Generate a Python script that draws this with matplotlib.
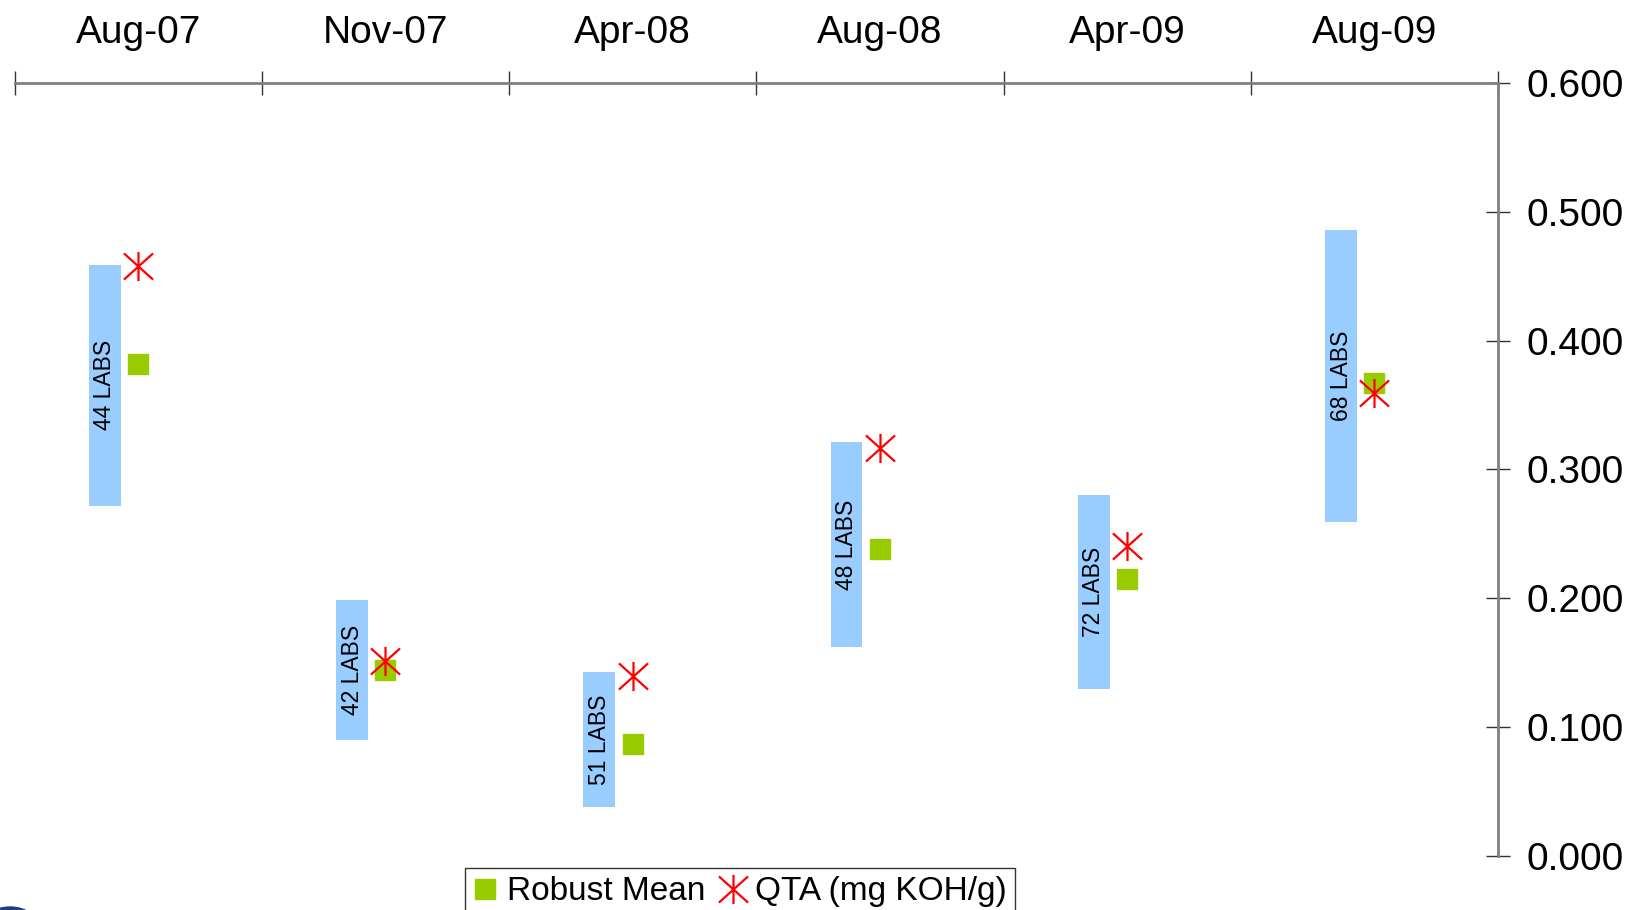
import matplotlib
matplotlib.use("Agg")
import matplotlib.pyplot as plt
from matplotlib.path import Path
from matplotlib.patches import Ellipse
import numpy as np

plt.rcParams['font.family'] = ['Liberation Sans', 'DejaVu Sans']

rounds = ["Aug-07", "Nov-07", "Apr-08", "Aug-08", "Apr-09", "Aug-09"]
lab_counts = [44, 42, 51, 48, 72, 68]
range_low = [0.272, 0.090, 0.038, 0.162, 0.130, 0.259]
range_high = [0.459, 0.199, 0.143, 0.321, 0.280, 0.486]
robust_mean = [0.382, 0.144, 0.087, 0.238, 0.215, 0.367]
qta = [0.458, 0.151, 0.140, 0.317, 0.241, 0.359]

W, H = 1631, 910
fig = plt.figure(figsize=(W / 100, H / 100), dpi=100)
ax = fig.add_axes([14.6 / W, 1 - 856 / H, (1498 - 14.6) / W, (856 - 83) / H])

x = np.arange(len(rounds))
bar_off = -0.135
bar_w = 0.128
low = np.array(range_low)
high = np.array(range_high)
ax.bar(x + bar_off, high - low, bottom=low, width=bar_w, color='#99CCFF',
       edgecolor='none', zorder=2)
for xi, lo, hi, n in zip(x, low, high, lab_counts):
    ax.text(xi + bar_off, (lo + hi) / 2, f"{n} LABS", rotation=90,
            ha='center', va='center', fontsize=16.5, color='black', zorder=3)

star = Path([(-1, -0.9), (1, 0.9), (-1, 0.9), (1, -0.9), (0, -1), (0, 1)],
            [Path.MOVETO, Path.LINETO, Path.MOVETO, Path.LINETO, Path.MOVETO, Path.LINETO])

ax.plot(x, robust_mean, linestyle='none', marker='s', markersize=15,
        color='#99CC00', markeredgecolor='#99CC00', label='Robust Mean', zorder=4)
ax.plot(x, qta, linestyle='none', marker=star, markersize=21,
        color='#FF0000', markeredgecolor='#FF0000', markeredgewidth=1.6,
        label='QTA (mg KOH/g)', zorder=5)

ax.set_xlim(-0.5, len(rounds) - 0.5)
ax.set_ylim(0, 0.6)

for s in ['bottom', 'left']:
    ax.spines[s].set_visible(False)
for s in ['top', 'right']:
    ax.spines[s].set_color('#808080')
    ax.spines[s].set_linewidth(2)

ax.xaxis.tick_top()
ax.set_xticks(np.arange(-0.5, len(rounds)), labels=[''] * (len(rounds) + 1))
ax.set_xticks(x, labels=rounds, minor=True)
ax.tick_params(axis='x', which='major', direction='inout', length=17, width=1, color='#333333')
ax.tick_params(axis='x', which='minor', length=0, pad=23, labelsize=28)

ax.yaxis.tick_right()
ax.set_yticks(np.arange(0, 0.61, 0.1))
ax.set_yticklabels([f"{v:.3f}" for v in np.arange(0, 0.61, 0.1)])
ax.tick_params(axis='y', direction='inout', length=17, width=1, color='#333333',
               pad=12, labelsize=28)

leg = fig.legend(loc='upper center', bbox_to_anchor=(740 / W, 1 - 868 / H),
                 ncol=2, fontsize=24, frameon=True, fancybox=False,
                 edgecolor='black', handlelength=0.7, handletextpad=0.3,
                 columnspacing=0.5, borderpad=0.25, borderaxespad=0)
leg.get_frame().set_linewidth(1)

fig.patches.append(Ellipse((10 / W, 1 - 930 / H), 60 / W, 46 / H,
                           transform=fig.transFigure, color='#1F3A8A', zorder=0))

fig.savefig('out.png', dpi=100)
